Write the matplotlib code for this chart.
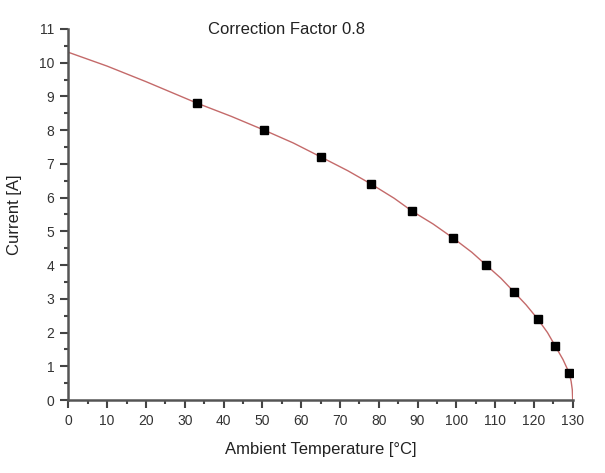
import matplotlib
matplotlib.use("Agg")
import matplotlib.pyplot as plt
from matplotlib.ticker import MultipleLocator

plt.rcParams['font.family'] = ['Liberation Sans', 'DejaVu Sans']

# measured points
temp = [33.2, 50.5, 65.2, 78.1, 88.6, 99.2, 107.7, 114.9, 121.0, 125.5, 129.1]
current = [8.8, 8.0, 7.2, 6.4, 5.6, 4.8, 4.0, 3.2, 2.4, 1.6, 0.8]

# fitted curve
fit_t = [0, 10, 20, 33.2, 42, 50.5, 58, 65.2, 72, 78.1, 84, 88.6, 94, 99.2, 104,
         107.7, 111.5, 114.9, 118, 121.0, 123.5, 125.5, 127.5, 129.1, 129.6, 129.9, 130]
fit_i = [10.31, 9.9, 9.44, 8.8, 8.41, 8.0, 7.62, 7.2, 6.8, 6.4, 5.98, 5.6, 5.22, 4.8, 4.38,
         4.0, 3.61, 3.2, 2.82, 2.4, 2.0, 1.6, 1.2, 0.8, 0.55, 0.3, 0.0]

fig = plt.figure(figsize=(6.05, 4.73), dpi=100)
ax = fig.add_axes([68.3/605, 1-400/473, (572.7-68.3)/605, (400-29)/473])

ax.plot(fit_t, fit_i, color='#c46a6a', lw=1.0, zorder=2)
ax.plot(temp, current, ls='none', marker='s', ms=6, color='black', zorder=3)

ax.set_xlim(0, 130)
ax.set_ylim(0, 11)
ax.xaxis.set_major_locator(MultipleLocator(10))
ax.xaxis.set_minor_locator(MultipleLocator(5))
ax.yaxis.set_major_locator(MultipleLocator(1))
ax.yaxis.set_minor_locator(MultipleLocator(0.5))

for s in ['top', 'right']:
    ax.spines[s].set_visible(False)
for s in ['left', 'bottom']:
    ax.spines[s].set_color('#555555')
    ax.spines[s].set_linewidth(1.8)

ax.tick_params(which='major', direction='out', length=6, width=1.5, color='#444444',
               labelsize=10, labelcolor='#333333', pad=4)
ax.tick_params(which='minor', direction='out', length=3, width=1.5, color='#444444')

ax.set_xlabel('Ambient Temperature [°C]', fontsize=12, color='#222222', labelpad=10)
ax.set_ylabel('Current [A]', fontsize=12, color='#222222', labelpad=12)

fig.text(287/605, 1-30/473, 'Correction Factor 0.8', ha='center', va='center',
         fontsize=12, color='#222222')

fig.savefig('out.png', dpi=100)
